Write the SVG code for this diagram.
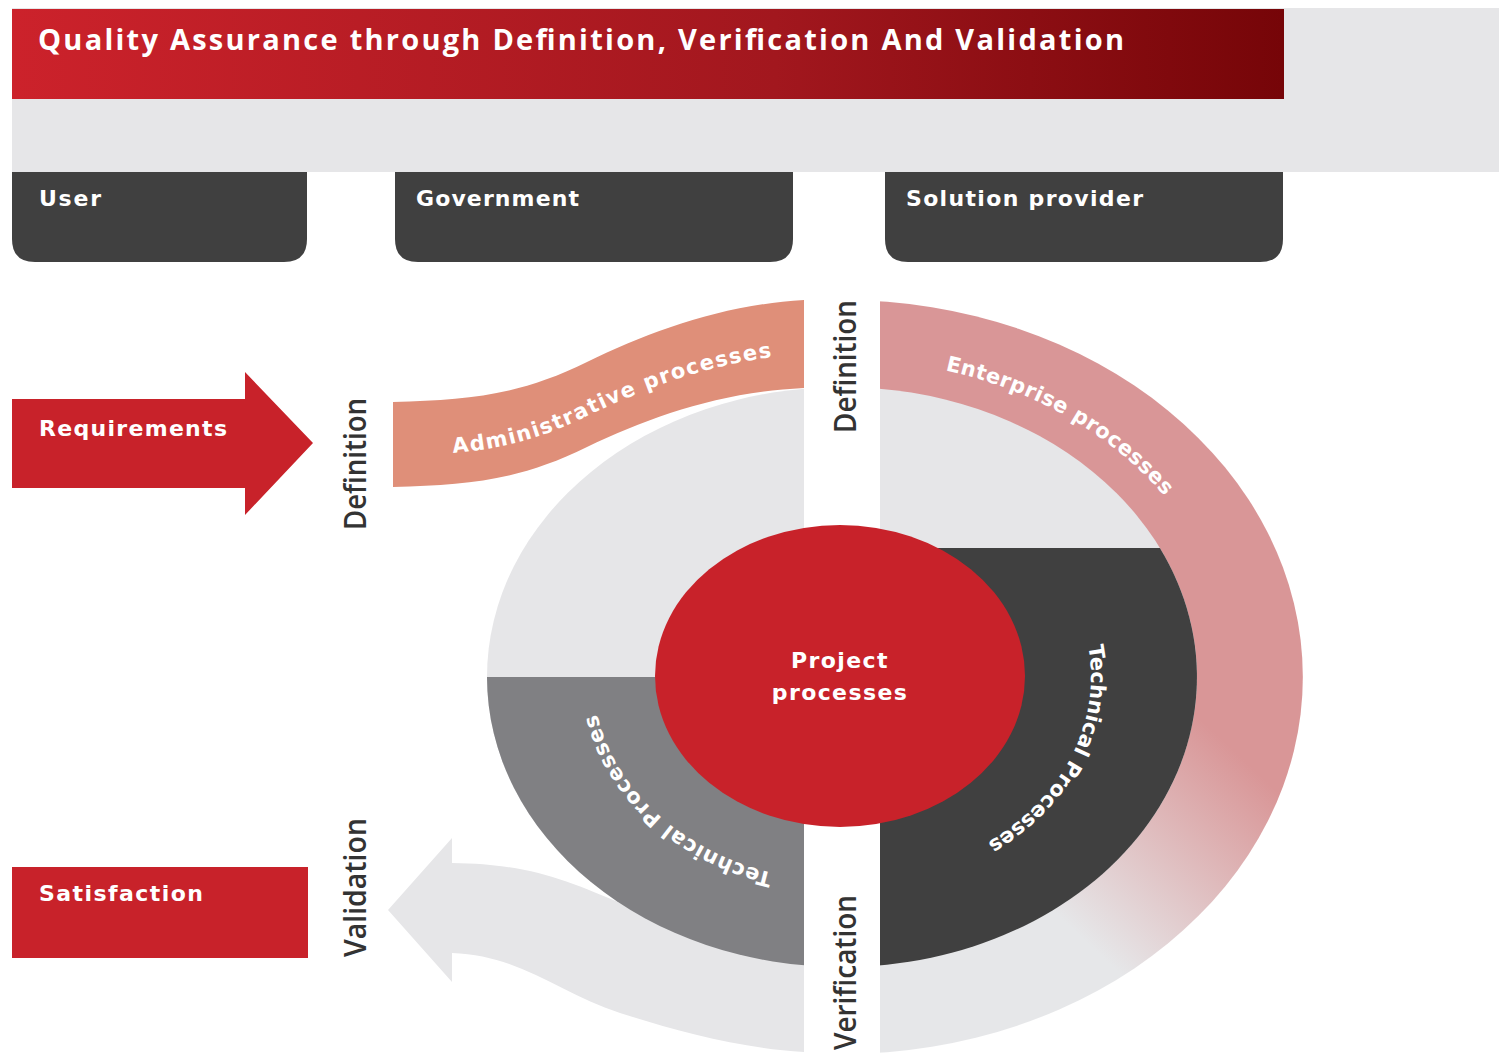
<svg xmlns="http://www.w3.org/2000/svg" width="1499" height="1055" viewBox="0 0 1499 1055">
  <defs>
    <linearGradient id="titleGrad" x1="0" y1="0" x2="1" y2="0">
      <stop offset="0" stop-color="#cc222b"/>
      <stop offset="0.6" stop-color="#a2171e"/>
      <stop offset="1" stop-color="#760508"/>
    </linearGradient>
    <linearGradient id="entGrad" gradientUnits="userSpaceOnUse" x1="1265" y1="780" x2="1100" y2="955">
      <stop offset="0" stop-color="#d99697"/>
      <stop offset="1" stop-color="#e6e7e9"/>
    </linearGradient>
    <path id="adminPath" d="M393,456 C470,454 520,449 587,416 C650,386 720,359 804,354"/>
    <path id="entPath" d="M842,359 A392,318 0 0 1 1234,677 A392,318 0 0 1 842,995"/>
    <path id="techRPath" d="M842,473 A249,204 0 0 1 1091,677 A249,204 0 0 1 842,881 A249,204 0 0 1 593,677"/>
    <path id="techLPath" d="M842,881 A249,204 0 0 1 593,677 A249,204 0 0 1 842,473"/>
  </defs>
  <style>
    .lbl { font-family: "DejaVu Sans", "Liberation Sans", sans-serif; font-weight: bold; font-size: 22px; fill: #ffffff; }
    .arc { font-family: "DejaVu Sans", "Liberation Sans", sans-serif; font-weight: bold; font-size: 21px; fill: #ffffff; }
    .phase { font-family: "Open Sans", "Liberation Sans", sans-serif; font-weight: 600; font-size: 30px; fill: #333333; }
    .title { font-family: "Open Sans", "Liberation Sans", sans-serif; font-weight: bold; font-size: 29px; fill: #ffffff; }
    .dark { fill: #404040; }
    .red { fill: #c8222a; }
    .light { fill: #e6e6e8; }
  </style>
  <rect width="1499" height="1055" fill="#ffffff"/>

  <g id="header">
    <rect x="12" y="8" width="1487" height="164" class="light"/>
    <rect x="12" y="9" width="1272" height="90" fill="url(#titleGrad)"/>
    <text class="title" x="38" y="50" textLength="1086" lengthAdjust="spacing">Quality Assurance through Definition, Verification And Validation</text>
  </g>

  <g id="user">
    <path class="dark" d="M12,172 H307 V239 Q307,262 284,262 H35 Q12,262 12,239 Z"/>
    <text class="lbl" x="39" y="206" textLength="62" lengthAdjust="spacing">User</text>
  </g>
  <g id="government">
    <path class="dark" d="M395,172 H793 V239 Q793,262 770,262 H418 Q395,262 395,239 Z"/>
    <text class="lbl" x="416" y="206" textLength="163" lengthAdjust="spacing">Government</text>
  </g>
  <g id="solution-provider">
    <path class="dark" d="M885,172 H1283 V239 Q1283,262 1260,262 H908 Q885,262 885,239 Z"/>
    <text class="lbl" x="906" y="206" textLength="237" lengthAdjust="spacing">Solution provider</text>
  </g>

  <g id="requirements">
    <path class="red" d="M12,399 H245 V372 L313,443 L245,515 V488 H12 Z"/>
    <text class="lbl" x="39" y="436" textLength="188" lengthAdjust="spacing">Requirements</text>
  </g>
  <g id="satisfaction">
    <rect class="red" x="12" y="867" width="296" height="91"/>
    <text class="lbl" x="39" y="901" textLength="164" lengthAdjust="spacing">Satisfaction</text>
  </g>

  <g id="connectors">
    <path id="validation-arrow" class="light" d="M388,910 L452,838 L452,863 C530,864 565,880 625,905 C690,932 740,960 804,963 L804,1052 C740,1048 680,1032 620,1013 C560,994 520,955 452,953 L452,982 Z"/>
  </g>

  <g id="enterprise-processes">
    <path fill="url(#entGrad)" d="M842,300 A461,377 0 0 1 842,1054 Z"/>
  </g>

  <g id="quadrants">
    <ellipse class="light" cx="842" cy="677" rx="355" ry="290"/>
    <path fill="#808083" d="M842,677 L487,677 A355,290 0 0 0 842,967 Z"/>
    <path class="dark" d="M842,548 L1159.9,548 A355,290 0 0 1 842,967 Z"/>
  </g>

  <g id="administrative-processes">
    <path fill="#df8f79" d="M393,402 C470,400 520,395 587,362 C650,332 720,305 804,300 L804,388 C720,392 650,417 587,447 C520,480 470,485 393,487 Z"/>
  </g>

  <rect x="804" y="280" width="76" height="775" fill="#ffffff"/>

  <g id="project-processes">
    <ellipse class="red" cx="840" cy="676" rx="185" ry="151"/>
    <text class="lbl" x="840" y="668" text-anchor="middle" letter-spacing="1.4">Project</text>
    <text class="lbl" x="840" y="700" text-anchor="middle" letter-spacing="1.4">processes</text>
  </g>

  <g id="arc-labels">
    <text class="arc"><textPath href="#adminPath" startOffset="60" textLength="335" lengthAdjust="spacing">Administrative processes</textPath></text>
    <text class="arc"><textPath href="#entPath" startOffset="104" textLength="257" lengthAdjust="spacing">Enterprise processes</textPath></text>
    <text class="arc"><textPath href="#techRPath" startOffset="325" textLength="236" lengthAdjust="spacing">Technical Processes</textPath></text>
    <text class="arc"><textPath href="#techLPath" startOffset="70" textLength="249" lengthAdjust="spacing">Technical Processes</textPath></text>
  </g>

  <g id="phase-labels">
    <text class="phase" transform="translate(366,530) rotate(-90)" textLength="132" lengthAdjust="spacingAndGlyphs">Definition</text>
    <text class="phase" transform="translate(856,433) rotate(-90)" textLength="133" lengthAdjust="spacingAndGlyphs">Definition</text>
    <text class="phase" transform="translate(366,957) rotate(-90)" textLength="139" lengthAdjust="spacingAndGlyphs">Validation</text>
    <text class="phase" transform="translate(856,1050) rotate(-90)" textLength="155" lengthAdjust="spacingAndGlyphs">Verification</text>
  </g>
</svg>
